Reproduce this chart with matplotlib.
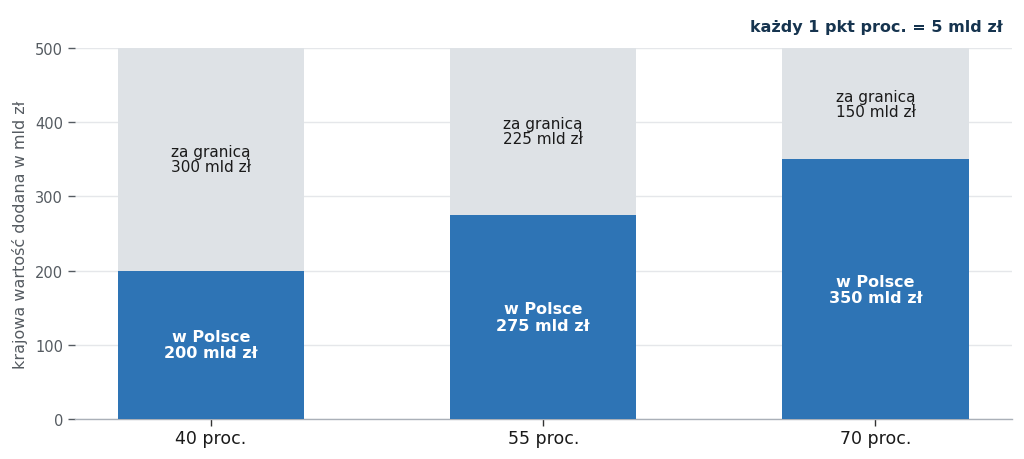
import matplotlib
matplotlib.use("Agg")
import matplotlib.pyplot as plt

plt.rcParams["font.family"] = ["DejaVu Sans"]

categories = ["40 proc.", "55 proc.", "70 proc."]
domestic = [200, 275, 350]
abroad = [300, 225, 150]
yticks = [0, 100, 200, 300, 400, 500]

BLUE = "#2e74b5"
GREY = "#dee2e6"

fig = plt.figure(figsize=(10.24, 4.6), dpi=100)
ax = fig.add_axes([0.073, 0.087, 0.915, 0.8065])

x = list(range(len(categories)))
ax.bar(x, domestic, width=0.56, color=BLUE, zorder=3)
ax.bar(x, abroad, width=0.56, bottom=domestic, color=GREY, zorder=3)

for xi, d, a in zip(x, domestic, abroad):
    ax.text(xi, d / 2, f"w Polsce\n{d} mld zł", ha="center", va="center",
            color="white", fontsize=11.5, fontweight="bold", linespacing=1.1, zorder=4)
    ax.text(xi, d + a / 2, f"za granicą\n{a} mld zł", ha="center", va="center",
            color="#1a1a1a", fontsize=11, linespacing=1.0, zorder=4)

ax.set_xlim(-0.41, 2.41)
ax.set_ylim(0, 500)
ax.set_yticks(yticks)
ax.set_xticks(x)
ax.set_xticklabels(categories, fontsize=12.5, color="#1a1a1a")
ax.tick_params(axis="y", labelsize=10.5, colors="#555b61", length=5, width=1)
ax.tick_params(axis="x", length=5, width=1, color="#333333", pad=2.5)
ax.set_ylabel("krajowa wartość dodana w mld zł", fontsize=11.5, color="#555b61", labelpad=5)

ax.grid(axis="y", color="#e5e7ea", linewidth=1, zorder=0)
ax.set_axisbelow(True)
for s in ["top", "right", "left"]:
    ax.spines[s].set_visible(False)
ax.spines["bottom"].set_color("#aab0b8")
ax.spines["bottom"].set_linewidth(1)

fig.text(0.979, 0.94, "każdy 1 pkt proc. = 5 mld zł", ha="right", va="center",
         fontsize=11.5, fontweight="bold", color="#16344f")

fig.savefig("out.png", dpi=100)
